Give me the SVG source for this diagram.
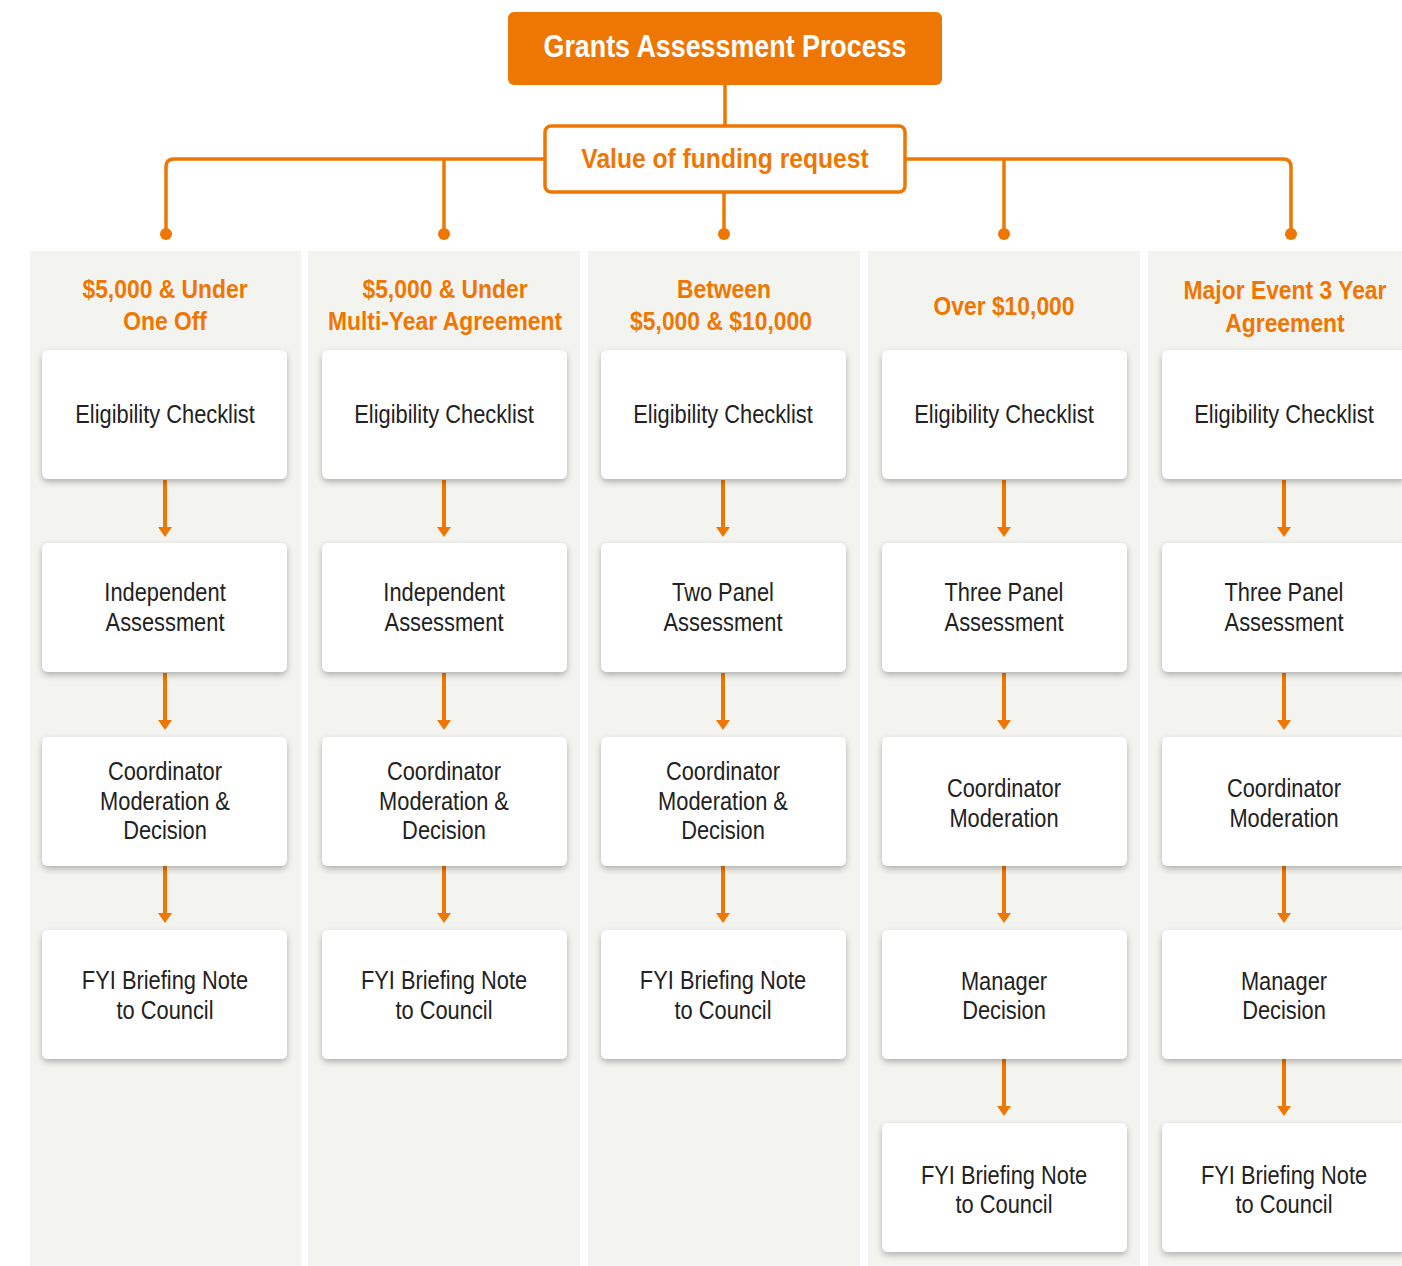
<svg xmlns="http://www.w3.org/2000/svg" width="1402" height="1266" viewBox="0 0 1402 1266">
<style>
.col{fill:#f3f3ef}
.box{fill:#ffffff;filter:url(#sh)}
.t{font-family:"Liberation Sans",Arial,sans-serif;font-size:26px;fill:#222;text-anchor:middle;transform-box:fill-box;transform-origin:center;transform:scaleX(0.84)}
.h{font-family:"Liberation Sans",Arial,sans-serif;font-weight:bold;font-size:26px;fill:#ee7703;text-anchor:middle;transform-box:fill-box;transform-origin:center;transform:scaleX(0.88)}
.ln{stroke:#ee7703;stroke-width:3.5;fill:none}
</style>
<defs>
<filter id="sh" x="-10%" y="-10%" width="120%" height="130%">
<feDropShadow dx="0" dy="3" stdDeviation="3" flood-color="#000" flood-opacity="0.28"/>
</filter>
</defs>
<rect width="1402" height="1266" fill="#fff"/>
<g id="columns">
<rect class="col" x="30" y="251" width="271" height="1015"/>
<rect class="col" x="308" y="251" width="272" height="1015"/>
<rect class="col" x="588" y="251" width="272" height="1015"/>
<rect class="col" x="868" y="251" width="272" height="1015"/>
<rect class="col" x="1148" y="251" width="254" height="1015"/>
</g>
<g id="connectors">
<path class="ln" d="M725,85 V125"/>
<path class="ln" d="M544,159 H174 Q166,159 166,167 V234"/>
<path class="ln" d="M444,159 V234"/>
<path class="ln" d="M724,193 V234"/>
<path class="ln" d="M906,159 H1283 Q1291,159 1291,167 V234"/>
<path class="ln" d="M1004,159 V234"/>
<g fill="#ee7703">
<circle cx="166" cy="234" r="6"/><circle cx="444" cy="234" r="6"/><circle cx="724" cy="234" r="6"/><circle cx="1004" cy="234" r="6"/><circle cx="1291" cy="234" r="6"/>
</g>
<g fill="#ee7703">
<path d="M163,480 h4 v47 h5 l-7,10 l-7,-10 h5 Z"/>
<path d="M163,673 h4 v47 h5 l-7,10 l-7,-10 h5 Z"/>
<path d="M163,866 h4 v47 h5 l-7,10 l-7,-10 h5 Z"/>
<path d="M442,480 h4 v47 h5 l-7,10 l-7,-10 h5 Z"/>
<path d="M442,673 h4 v47 h5 l-7,10 l-7,-10 h5 Z"/>
<path d="M442,866 h4 v47 h5 l-7,10 l-7,-10 h5 Z"/>
<path d="M721,480 h4 v47 h5 l-7,10 l-7,-10 h5 Z"/>
<path d="M721,673 h4 v47 h5 l-7,10 l-7,-10 h5 Z"/>
<path d="M721,866 h4 v47 h5 l-7,10 l-7,-10 h5 Z"/>
<path d="M1002,480 h4 v47 h5 l-7,10 l-7,-10 h5 Z"/>
<path d="M1002,673 h4 v47 h5 l-7,10 l-7,-10 h5 Z"/>
<path d="M1002,866 h4 v47 h5 l-7,10 l-7,-10 h5 Z"/>
<path d="M1002,1059 h4 v47 h5 l-7,10 l-7,-10 h5 Z"/>
<path d="M1282,480 h4 v47 h5 l-7,10 l-7,-10 h5 Z"/>
<path d="M1282,673 h4 v47 h5 l-7,10 l-7,-10 h5 Z"/>
<path d="M1282,866 h4 v47 h5 l-7,10 l-7,-10 h5 Z"/>
<path d="M1282,1059 h4 v47 h5 l-7,10 l-7,-10 h5 Z"/>
</g>
</g>
<g id="title">
<rect x="508" y="12" width="434" height="73" rx="6" fill="#ee7703"/>
<text class="h" x="725" y="57" style="fill:#fff;font-size:30.5px">Grants Assessment Process</text>
</g>
<g id="value">
<rect x="545" y="126" width="360" height="66" rx="6" fill="#fff" stroke="#ee7703" stroke-width="3.5"/>
<text class="h" x="725" y="168" style="font-size:28px">Value of funding request</text>
</g>
<g id="hdr1"><text class="h" x="165" y="298">$5,000 &amp; Under</text><text class="h" x="165" y="330">One Off</text></g>
<g id="hdr2"><text class="h" x="445" y="298">$5,000 &amp; Under</text><text class="h" x="445" y="330">Multi-Year Agreement</text></g>
<g id="hdr3"><text class="h" x="724" y="298">Between</text><text class="h" x="721" y="330">$5,000 &amp; $10,000</text></g>
<g id="hdr4"><text class="h" x="1004" y="315">Over $10,000</text></g>
<g id="hdr5"><text class="h" x="1285" y="299">Major Event 3 Year</text><text class="h" x="1285" y="332">Agreement</text></g>

<g id="c1r1"><rect class="box" x="42" y="350" width="245" height="129" rx="6"/><text class="t" x="165" y="423">Eligibility Checklist</text></g>
<g id="c1r2"><rect class="box" x="42" y="543" width="245" height="129" rx="6"/><text class="t" x="165" y="601">Independent</text><text class="t" x="165" y="631">Assessment</text></g>
<g id="c1r3"><rect class="box" x="42" y="737" width="245" height="129" rx="6"/><text class="t" x="165" y="780">Coordinator</text><text class="t" x="165" y="810">Moderation &amp;</text><text class="t" x="165" y="839">Decision</text></g>
<g id="c1r4"><rect class="box" x="42" y="930" width="245" height="129" rx="6"/><text class="t" x="165" y="989">FYI Briefing Note</text><text class="t" x="165" y="1019">to Council</text></g>

<g id="c2r1"><rect class="box" x="322" y="350" width="245" height="129" rx="6"/><text class="t" x="444" y="423">Eligibility Checklist</text></g>
<g id="c2r2"><rect class="box" x="322" y="543" width="245" height="129" rx="6"/><text class="t" x="444" y="601">Independent</text><text class="t" x="444" y="631">Assessment</text></g>
<g id="c2r3"><rect class="box" x="322" y="737" width="245" height="129" rx="6"/><text class="t" x="444" y="780">Coordinator</text><text class="t" x="444" y="810">Moderation &amp;</text><text class="t" x="444" y="839">Decision</text></g>
<g id="c2r4"><rect class="box" x="322" y="930" width="245" height="129" rx="6"/><text class="t" x="444" y="989">FYI Briefing Note</text><text class="t" x="444" y="1019">to Council</text></g>

<g id="c3r1"><rect class="box" x="601" y="350" width="245" height="129" rx="6"/><text class="t" x="723" y="423">Eligibility Checklist</text></g>
<g id="c3r2"><rect class="box" x="601" y="543" width="245" height="129" rx="6"/><text class="t" x="723" y="601">Two Panel</text><text class="t" x="723" y="631">Assessment</text></g>
<g id="c3r3"><rect class="box" x="601" y="737" width="245" height="129" rx="6"/><text class="t" x="723" y="780">Coordinator</text><text class="t" x="723" y="810">Moderation &amp;</text><text class="t" x="723" y="839">Decision</text></g>
<g id="c3r4"><rect class="box" x="601" y="930" width="245" height="129" rx="6"/><text class="t" x="723" y="989">FYI Briefing Note</text><text class="t" x="723" y="1019">to Council</text></g>

<g id="c4r1"><rect class="box" x="882" y="350" width="245" height="129" rx="6"/><text class="t" x="1004" y="423">Eligibility Checklist</text></g>
<g id="c4r2"><rect class="box" x="882" y="543" width="245" height="129" rx="6"/><text class="t" x="1004" y="601">Three Panel</text><text class="t" x="1004" y="631">Assessment</text></g>
<g id="c4r3"><rect class="box" x="882" y="737" width="245" height="129" rx="6"/><text class="t" x="1004" y="797">Coordinator</text><text class="t" x="1004" y="827">Moderation</text></g>
<g id="c4r4"><rect class="box" x="882" y="930" width="245" height="129" rx="6"/><text class="t" x="1004" y="990">Manager</text><text class="t" x="1004" y="1019">Decision</text></g>
<g id="c4r5"><rect class="box" x="882" y="1123" width="245" height="129" rx="6"/><text class="t" x="1004" y="1184">FYI Briefing Note</text><text class="t" x="1004" y="1213">to Council</text></g>

<g id="c5r1"><rect class="box" x="1162" y="350" width="245" height="129" rx="6"/><text class="t" x="1284" y="423">Eligibility Checklist</text></g>
<g id="c5r2"><rect class="box" x="1162" y="543" width="245" height="129" rx="6"/><text class="t" x="1284" y="601">Three Panel</text><text class="t" x="1284" y="631">Assessment</text></g>
<g id="c5r3"><rect class="box" x="1162" y="737" width="245" height="129" rx="6"/><text class="t" x="1284" y="797">Coordinator</text><text class="t" x="1284" y="827">Moderation</text></g>
<g id="c5r4"><rect class="box" x="1162" y="930" width="245" height="129" rx="6"/><text class="t" x="1284" y="990">Manager</text><text class="t" x="1284" y="1019">Decision</text></g>
<g id="c5r5"><rect class="box" x="1162" y="1123" width="245" height="129" rx="6"/><text class="t" x="1284" y="1184">FYI Briefing Note</text><text class="t" x="1284" y="1213">to Council</text></g>
</svg>
